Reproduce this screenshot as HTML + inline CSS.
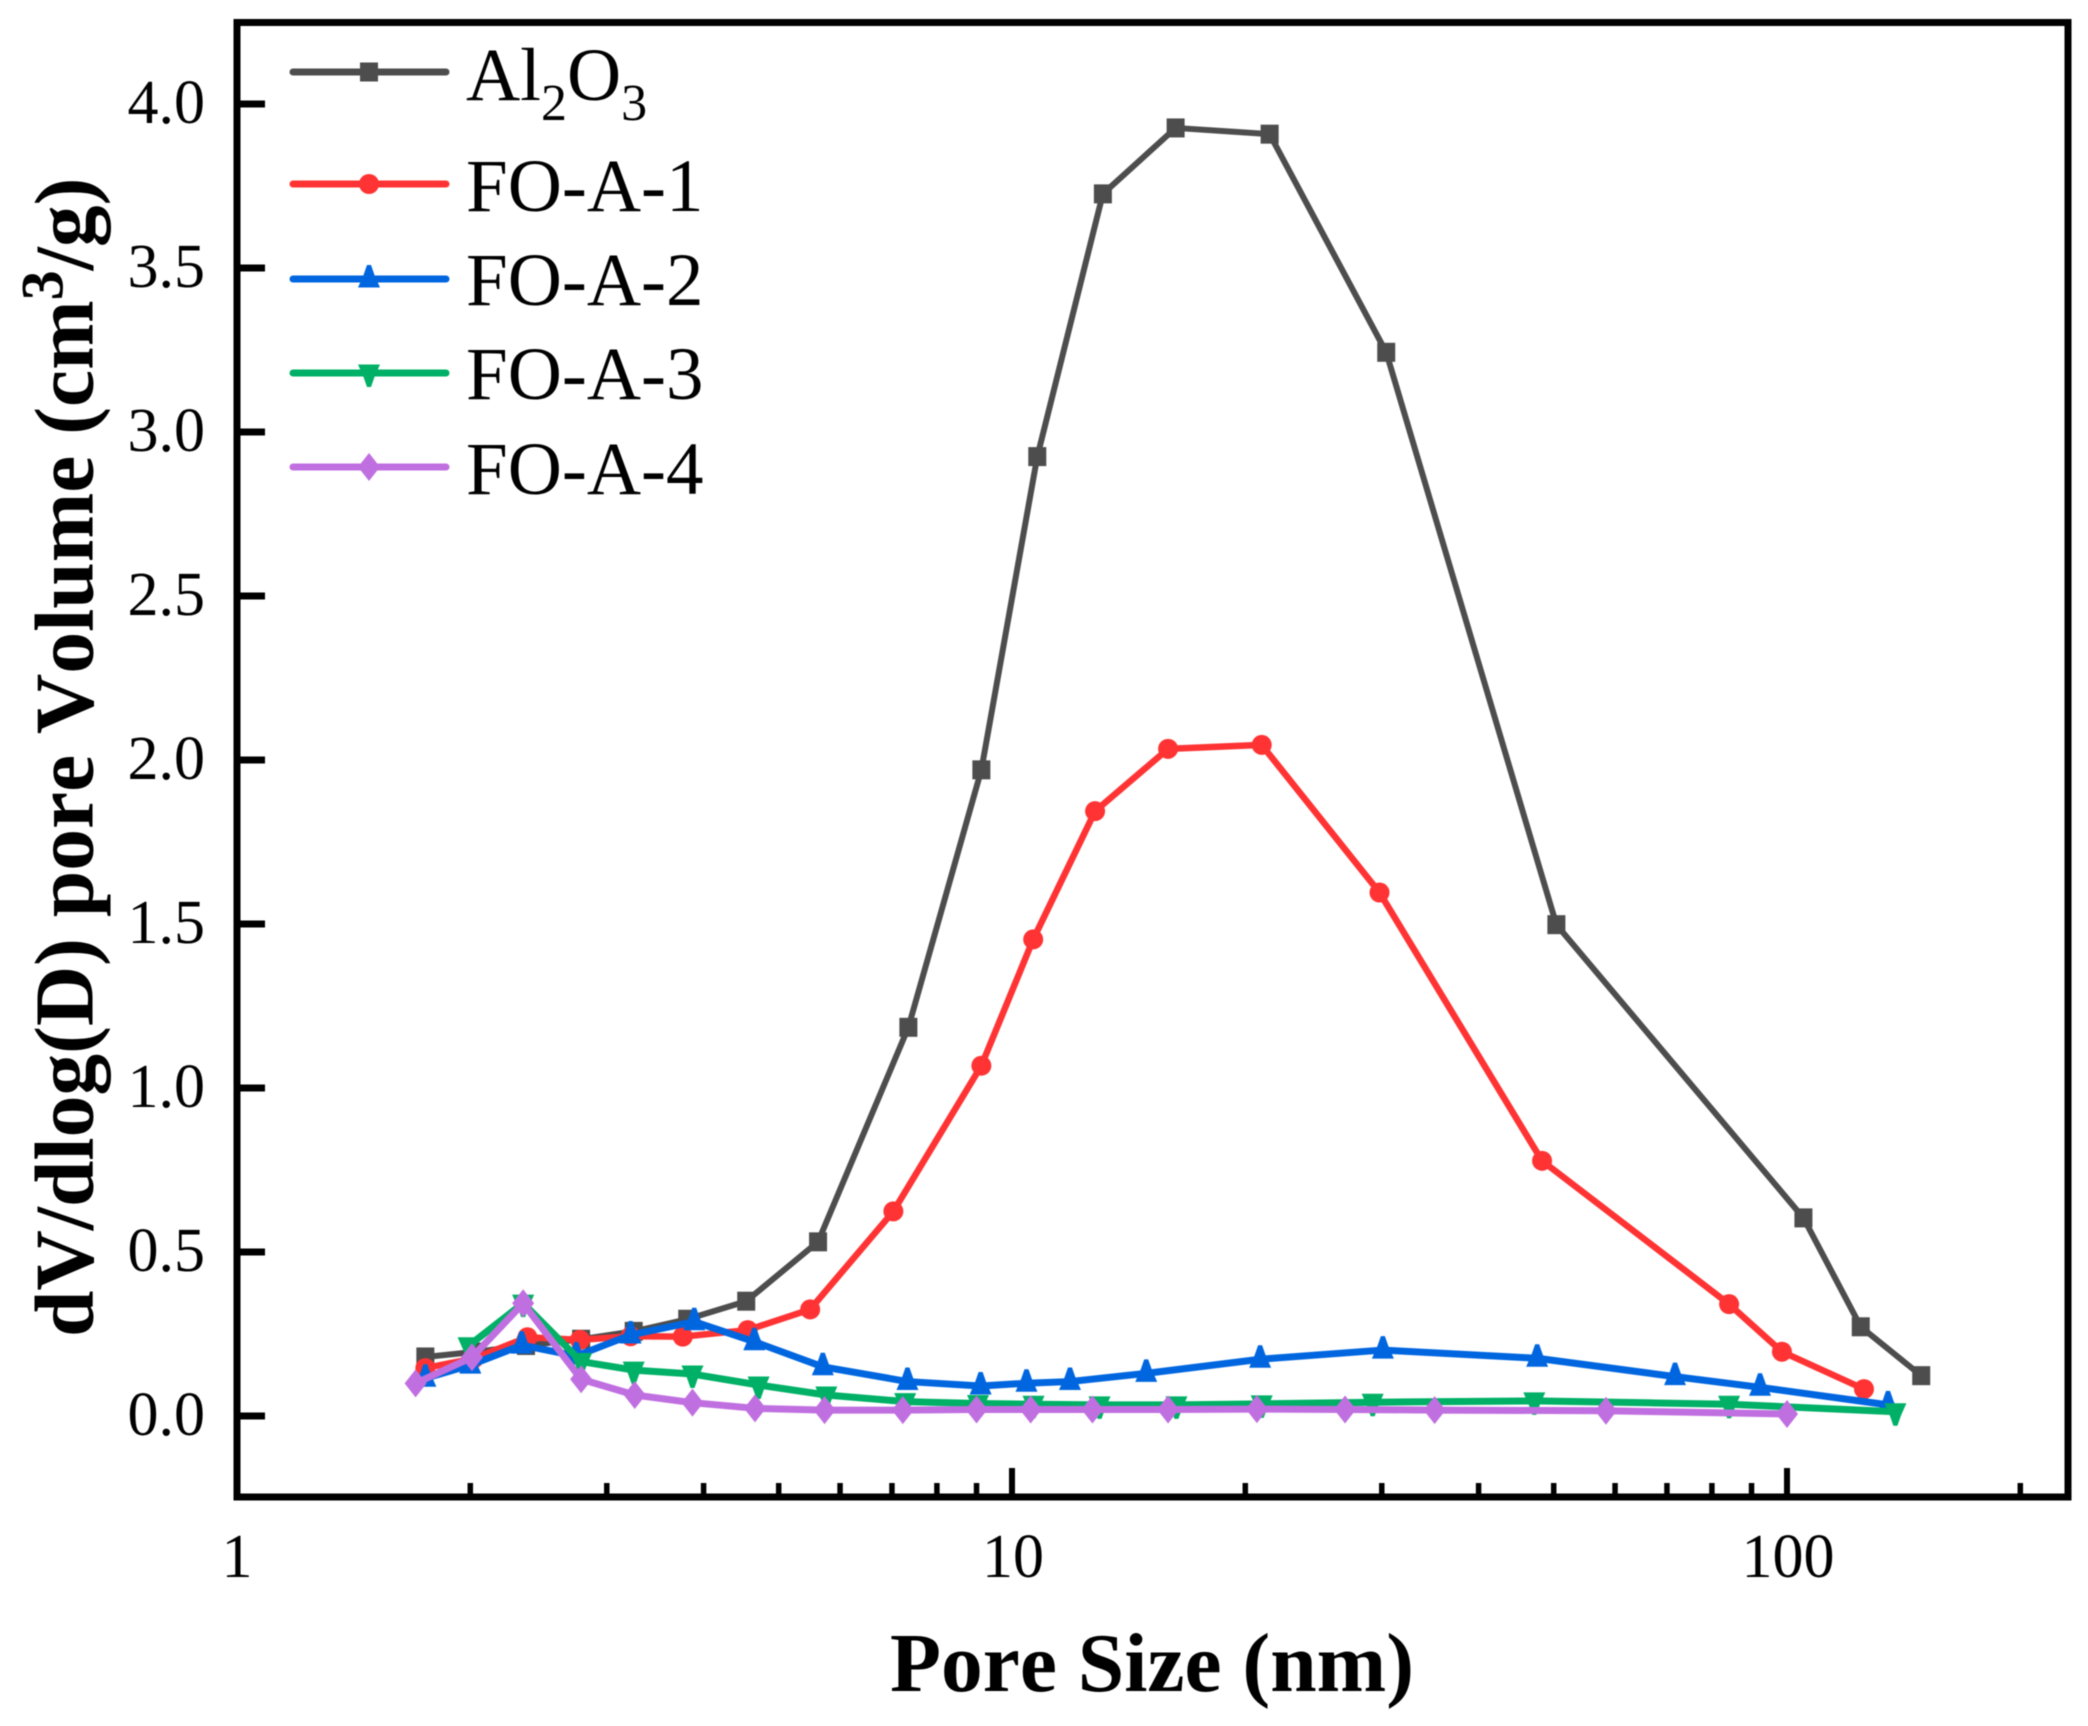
<!DOCTYPE html>
<html lang="en">
<head>
<meta charset="utf-8">
<title>Pore size distribution</title>
<style>
html,body{margin:0;padding:0;background:#fff;}
svg{display:block;filter:blur(0.6px);}
text{font-family:"Liberation Serif",serif;fill:#000;font-kerning:none;}
</style>
</head>
<body>
<svg id="chart" xmlns="http://www.w3.org/2000/svg" width="2088" height="1726" viewBox="0 0 2088 1726">
  <rect x="0" y="0" width="2088" height="1726" fill="#ffffff"/>
  <g id="ticks"></g>
  <g id="series"></g>
  <rect x="237" y="22.5" width="1831" height="1474.5" fill="none" stroke="#000" stroke-width="7"/>
  <g id="tick-labels"></g>
  <text x="1152" y="1691" text-anchor="middle" font-size="83.5" font-weight="bold">Pore Size (nm)</text>
  <text transform="translate(92.5,1337) rotate(-90)" font-size="83.5" font-weight="bold">dV/dlog(D) pore Volume (cm<tspan font-size="60" dy="-30">3</tspan><tspan dy="30">/g)</tspan></text>
  <g id="legend">
    <text x="466" y="100" font-size="75">Al<tspan font-size="52" dy="20">2</tspan><tspan dy="-20">O</tspan><tspan font-size="52" dy="20">3</tspan></text>
    <text x="466" y="211" font-size="75">FO-A-1</text>
    <text x="466" y="305" font-size="75">FO-A-2</text>
    <text x="466" y="399" font-size="75">FO-A-3</text>
    <text x="466" y="494" font-size="75">FO-A-4</text>
  </g>
</svg>
<script>
// Chart data (pore size in nm, dV/dlog(D) in cm3/g)
const xMajorTicks = [1, 10, 100];
const xMinorTicks = [2, 3, 4, 5, 6, 7, 8, 9, 20, 30, 40, 50, 60, 70, 80, 90, 200];
const xTickLabels = ['1', '10', '100'];
const yTicks = [0, 0.5, 1, 1.5, 2, 2.5, 3, 3.5, 4];
const yTickLabels = ['0.0', '0.5', '1.0', '1.5', '2.0', '2.5', '3.0', '3.5', '4.0'];

const al2o3X = [1.75, 2.02, 2.36, 2.78, 3.25, 3.81, 4.54, 5.62, 7.35, 9.13, 10.78, 13.1, 16.26, 21.5, 30.4, 50.4, 105, 124.5, 149];
const al2o3Y = [0.18, 0.195, 0.215, 0.234, 0.258, 0.295, 0.35, 0.531, 1.185, 1.97, 2.925, 3.726, 3.927, 3.908, 3.243, 1.498, 0.604, 0.272, 0.123];

const foA1X = [1.75, 2.02, 2.37, 2.77, 3.22, 3.76, 4.56, 5.49, 7.03, 9.13, 10.65, 12.8, 15.9, 21, 29.8, 48.3, 84.2, 98.5, 125.7];
const foA1Y = [0.146, 0.175, 0.24, 0.232, 0.243, 0.242, 0.262, 0.325, 0.624, 1.068, 1.453, 1.844, 2.034, 2.046, 1.596, 0.778, 0.341, 0.196, 0.082];

const foA2X = [1.75, 2.0, 2.33, 2.74, 3.22, 3.89, 4.65, 5.7, 7.33, 9.11, 10.44, 11.88, 14.9, 20.9, 30.1, 47.6, 71.7, 92.3, 135];
const foA2Y = [0.115, 0.155, 0.216, 0.183, 0.247, 0.2875, 0.2265, 0.15, 0.105, 0.0915, 0.1, 0.105, 0.13, 0.173, 0.201, 0.176, 0.12, 0.0875, 0.034];

const foA3X = [1.99, 2.34, 2.78, 3.25, 3.87, 4.71, 5.76, 7.28, 9.04, 10.66, 12.97, 16.3, 21, 29.2, 47.2, 84.2, 138];
const foA3Y = [0.214, 0.344, 0.166, 0.14, 0.128, 0.0945, 0.064, 0.044, 0.038, 0.036, 0.034, 0.034, 0.037, 0.042, 0.046, 0.036, 0.013];

const foA4X = [1.7, 2.01, 2.34, 2.78, 3.26, 3.87, 4.66, 5.73, 7.23, 9.0, 10.57, 12.7, 15.9, 20.7, 26.9, 35.1, 58.4, 100];
const foA4Y = [0.0996, 0.179, 0.3436, 0.112, 0.064, 0.0406, 0.0234, 0.018, 0.018, 0.02, 0.02, 0.02, 0.02, 0.021, 0.02, 0.018, 0.016, 0.006];

const seriesNames = ['al2o3', 'fo-a-1', 'fo-a-2', 'fo-a-3', 'fo-a-4'];
const seriesXs = [al2o3X, foA1X, foA2X, foA3X, foA4X];
const seriesYs = [al2o3Y, foA1Y, foA2Y, foA3Y, foA4Y];

// Axis functions
function xScale(v) { return 237 + 775 * Math.log10(v); }
function yScale(v) { return 1416 - 328 * v; }

const NS = 'http://www.w3.org/2000/svg';
const colors = ['#4d4d4d', '#ff3333', '#0066e0', '#00b066', '#c06fe0'];
const shapes = ['square', 'circle', 'up', 'down', 'diamond'];
const widths = [6, 6.5, 7, 7, 7];

function markerEl(shape, cx, cy, color) {
  let el;
  if (shape === 'circle') {
    el = document.createElementNS(NS, 'circle');
    el.setAttribute('cx', cx);
    el.setAttribute('cy', cy);
    el.setAttribute('r', 10);
  } else if (shape === 'square') {
    el = document.createElementNS(NS, 'rect');
    el.setAttribute('x', cx - 9);
    el.setAttribute('y', cy - 9.5);
    el.setAttribute('width', 18);
    el.setAttribute('height', 19);
  } else {
    el = document.createElementNS(NS, 'polygon');
    let pts;
    if (shape === 'up') {
      pts = [[cx - 2, cy - 14], [cx + 2, cy - 14], [cx + 5.5, cy - 4], [cx + 11, cy + 8.5], [cx - 11, cy + 8.5], [cx - 5.5, cy - 4]];
    } else if (shape === 'down') {
      pts = [[cx - 2, cy + 14], [cx + 2, cy + 14], [cx + 5.5, cy + 4], [cx + 11, cy - 8.5], [cx - 11, cy - 8.5], [cx - 5.5, cy + 4]];
    } else {
      pts = [[cx, cy - 14], [cx + 11, cy], [cx, cy + 14], [cx - 11, cy]];
    }
    el.setAttribute('points', pts.map(function (p) { return p[0] + ',' + p[1]; }).join(' '));
  }
  el.setAttribute('fill', color);
  return el;
}

const ticksG = document.getElementById('ticks');
const labelsG = document.getElementById('tick-labels');
const seriesG = document.getElementById('series');
const legendG = document.getElementById('legend');

function tickLine(x1, y1, x2, y2, w) {
  const l = document.createElementNS(NS, 'line');
  l.setAttribute('x1', x1);
  l.setAttribute('y1', y1);
  l.setAttribute('x2', x2);
  l.setAttribute('y2', y2);
  l.setAttribute('stroke', '#000');
  l.setAttribute('stroke-width', w);
  ticksG.appendChild(l);
  return l;
}

function tickText(str, x, y, anchor) {
  const t = document.createElementNS(NS, 'text');
  t.setAttribute('x', x);
  t.setAttribute('y', y);
  t.setAttribute('font-size', 62);
  t.setAttribute('text-anchor', anchor);
  t.textContent = str;
  labelsG.appendChild(t);
  return t;
}

xMajorTicks.forEach(function (v, i) {
  const l = tickLine(xScale(v), 1497, xScale(v), 1468, 6);
  
  
  const t = tickText(xTickLabels[i], xScale(v) + (i === 0 ? 0 : 1), 1577, 'middle');
  
  
});

xMinorTicks.forEach(function (v) {
  const l = tickLine(xScale(v), 1497, xScale(v), 1483, 5.5);
  
  
});

yTicks.forEach(function (v, i) {
  const l = tickLine(237, yScale(v), 265, yScale(v), 7);
  
  
  const t = tickText(yTickLabels[i], 205, yScale(v) + 19, 'end');
  
  
});

seriesNames.forEach(function (name, i) {
  const g = document.createElementNS(NS, 'g');
  
  
  const xs = seriesXs[i];
  const ys = seriesYs[i];
  const line = document.createElementNS(NS, 'polyline');
  
  
  line.setAttribute('points', xs.map(function (x, k) { return xScale(x) + ',' + yScale(ys[k]); }).join(' '));
  line.setAttribute('fill', 'none');
  line.setAttribute('stroke', colors[i]);
  line.setAttribute('stroke-width', widths[i]);
  line.setAttribute('stroke-linejoin', 'round');
  g.appendChild(line);
  xs.forEach(function (x, k) {
    const m = markerEl(shapes[i], xScale(x), yScale(ys[k]), colors[i]);
    
    
    g.appendChild(m);
  });
  seriesG.appendChild(g);
});

const legendRowY = [72, 184, 279, 373, 467];
seriesNames.forEach(function (name, i) {
  const l = document.createElementNS(NS, 'line');
  
  
  l.setAttribute('x1', 293);
  l.setAttribute('x2', 446);
  l.setAttribute('y1', legendRowY[i]);
  l.setAttribute('y2', legendRowY[i]);
  l.setAttribute('stroke', colors[i]);
  l.setAttribute('stroke-width', 7);
  l.setAttribute('stroke-linecap', 'round');
  legendG.appendChild(l);
  const m = markerEl(shapes[i], 369, legendRowY[i], colors[i]);
  
  
  legendG.appendChild(m);
});
</script>
</body>
</html>
